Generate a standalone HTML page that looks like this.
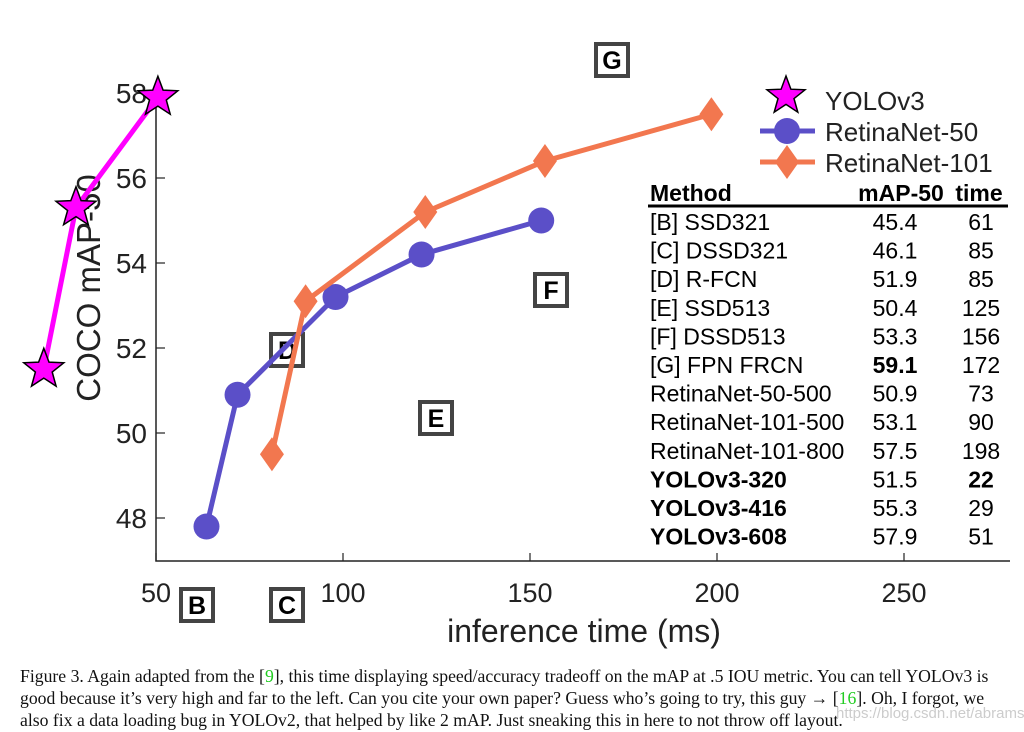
<!DOCTYPE html>
<html><head><meta charset="utf-8"><style>
body{margin:0;background:#fff;width:1024px;height:732px;overflow:hidden;font-family:"Liberation Sans",sans-serif}
svg text{font-family:"Liberation Sans",sans-serif}
.cap{position:absolute;left:20px;top:665px;width:1000px;font-family:"Liberation Serif",serif;font-size:18px;line-height:22px;color:#111;transform:scaleX(0.982);transform-origin:left top;white-space:nowrap}
.g{color:#2c2}
.wm{position:absolute;left:836px;top:705px;font-size:15px;color:#ccc}
</style></head><body>
<svg id="chart" width="1024" height="732" style="position:absolute;left:0;top:0">
<g id="axes"></g><g id="boxes"></g><g id="series"></g><g id="legend"></g><g id="tbl"></g>
</svg>
<div class="cap">Figure 3. Again adapted from the [<span class="g">9</span>], this time displaying speed/accuracy tradeoff on the mAP at .5 IOU metric. You can tell YOLOv3 is<br>good because it’s very high and far to the left. Can you cite your own paper? Guess who’s going to try, this guy → [<span class="g">16</span>]. Oh, I forgot, we<br>also fix a data loading bug in YOLOv2, that helped by like 2 mAP. Just sneaking this in here to not throw off layout.</div>
<div class="wm">https://blog.csdn.net/abrams90</div>
<script>
const xTicks=[50,100,150,200,250];
const yTicks=[48,50,52,54,56,58];
const yoloX=[20,28.6,50.5], yoloY=[51.5,55.3,57.9];
const r50X=[63.5,71.8,98,121,153], r50Y=[47.8,50.9,53.2,54.2,55.0];
const r101X=[81,90,122,154,198.5], r101Y=[49.5,53.1,55.2,56.4,57.5];
const boxLabels=["G","F","E","D","B","C"];
const boxX=[612,551,436,287,197,287], boxY=[60,290,418,350,605,605];
const tMethods=["[B] SSD321","[C] DSSD321","[D] R-FCN","[E] SSD513","[F] DSSD513","[G] FPN FRCN","RetinaNet-50-500","RetinaNet-101-500","RetinaNet-101-800","YOLOv3-320","YOLOv3-416","YOLOv3-608"];
const tMap=["45.4","46.1","51.9","50.4","53.3","59.1","50.9","53.1","57.5","51.5","55.3","57.9"];
const tTime=["61","85","85","125","156","172","73","90","198","22","29","51"];
const boldName=[0,0,0,0,0,0,0,0,0,1,1,1], boldMap=[0,0,0,0,0,1,0,0,0,0,0,0], boldTime=[0,0,0,0,0,0,0,0,0,1,0,0];

const NS="http://www.w3.org/2000/svg";
const X=v=>156+(v-50)*3.74, Y=v=>518-(v-48)*42.5;
function mk(p,tag,a,t){const e=document.createElementNS(NS,tag);for(const k in a)e.setAttribute(k,a[k]);if(t!=null)e.textContent=t;document.getElementById(p).appendChild(e);return e;}
let e;
e=mk('axes','path',{d:'M156,95 V561 H1010',fill:'none',stroke:'#222','stroke-width':1.5});


xTicks.forEach(v=>{
 e=mk('axes','line',{x1:X(v),x2:X(v),y1:561,y2:553,stroke:'#222','stroke-width':1.2});
 
 
 e=mk('axes','text',{x:X(v),y:602,'font-size':27,fill:'#222','text-anchor':'middle'},v);
 
 
});
yTicks.forEach(v=>{
 e=mk('axes','line',{x1:156,x2:165,y1:Y(v),y2:Y(v),stroke:'#222','stroke-width':1.2});
 
 
 e=mk('axes','text',{x:147,y:Y(v)+10,'font-size':28,fill:'#222','text-anchor':'end'},v);
 
 
});
e=mk('axes','text',{x:584,y:642,'font-size':32,fill:'#222','text-anchor':'middle'},'inference time (ms)');


e=mk('axes','text',{x:0,y:0,'font-size':33,fill:'#222','text-anchor':'middle',transform:'translate(100,288) rotate(-90)'},'COCO mAP-50');



function star(cx,cy,R){let p=[];for(let i=0;i<10;i++){const r=i%2?R*0.42:R;const a=-Math.PI/2+i*Math.PI/5;p.push((cx+r*Math.cos(a)).toFixed(1)+','+(cy+r*Math.sin(a)).toFixed(1));}return p.join(' ');}
function line(xs,ys,col,name){
 e=mk('series','polyline',{points:xs.map((x,i)=>X(x)+','+Y(ys[i])).join(' '),fill:'none',stroke:col,'stroke-width':5});
 
 
}
line(r50X,r50Y,'#5b4fc8','retinanet-50-line');
r50X.forEach((x,i)=>{e=mk('series','circle',{cx:X(x),cy:Y(r50Y[i]),r:13,fill:'#5b4fc8'});
 
 });
line(r101X,r101Y,'#f2774f','retinanet-101-line');
r101X.forEach((x,i)=>{const cx=X(x),cy=Y(r101Y[i]);e=mk('series','polygon',{points:`${cx},${cy-17} ${cx+12},${cy} ${cx},${cy+17} ${cx-12},${cy}`,fill:'#f2774f'});
 
 });
line(yoloX,yoloY,'#ff00ff','yolov3-line');
yoloX.forEach((x,i)=>{e=mk('series','polygon',{points:star(X(x),Y(yoloY[i]),21),fill:'#ff00ff',stroke:'#000','stroke-width':1.5});
 
 });

boxLabels.forEach((l,i)=>{
 e=mk('boxes','rect',{x:boxX[i]-16,y:boxY[i]-16,width:32,height:32,fill:'#fff',stroke:'#444','stroke-width':4});
 
 
 e=mk('boxes','text',{x:boxX[i],y:boxY[i]+9,'font-size':25,'font-weight':'bold','text-anchor':'middle',fill:'#000'},l);
 
 
});

e=mk('legend','polygon',{points:star(786,96,20),fill:'#ff00ff',stroke:'#000','stroke-width':1.5});


e=mk('legend','text',{x:825,y:110,'font-size':26,fill:'#222'},'YOLOv3');


e=mk('legend','line',{x1:760,x2:815,y1:131,y2:131,stroke:'#5b4fc8','stroke-width':5});


e=mk('legend','circle',{cx:787,cy:131,r:13,fill:'#5b4fc8'});


e=mk('legend','text',{x:825,y:141,'font-size':26,fill:'#222'},'RetinaNet-50');


e=mk('legend','line',{x1:760,x2:815,y1:162,y2:162,stroke:'#f2774f','stroke-width':5});


e=mk('legend','polygon',{points:'787,145 799,162 787,179 775,162',fill:'#f2774f'});


e=mk('legend','text',{x:825,y:172,'font-size':26,fill:'#222'},'RetinaNet-101');



e=mk('tbl','rect',{x:646,y:180,width:364,height:370,fill:'#fff'});


[['Method',650,'start'],['mAP-50',901,'middle'],['time',979,'middle']].forEach(h=>{
 e=mk('tbl','text',{x:h[1],y:201,'font-size':23,'font-weight':'bold','text-anchor':h[2],fill:'#000'},h[0]);
 
 
});
e=mk('tbl','line',{x1:648,x2:1008,y1:206,y2:206,stroke:'#000','stroke-width':3});


tMethods.forEach((m,i)=>{
 const y=230+i*28.6;
 e=mk('tbl','text',{x:650,y:y,'font-size':23,'font-weight':boldName[i]?'bold':'normal',fill:'#000'},m);
 
 
 e=mk('tbl','text',{x:895,y:y,'font-size':23,'font-weight':boldMap[i]?'bold':'normal','text-anchor':'middle',fill:'#000'},tMap[i]);
 
 
 e=mk('tbl','text',{x:981,y:y,'font-size':23,'font-weight':boldTime[i]?'bold':'normal','text-anchor':'middle',fill:'#000'},tTime[i]);
 
 
});
</script>
</body></html>
